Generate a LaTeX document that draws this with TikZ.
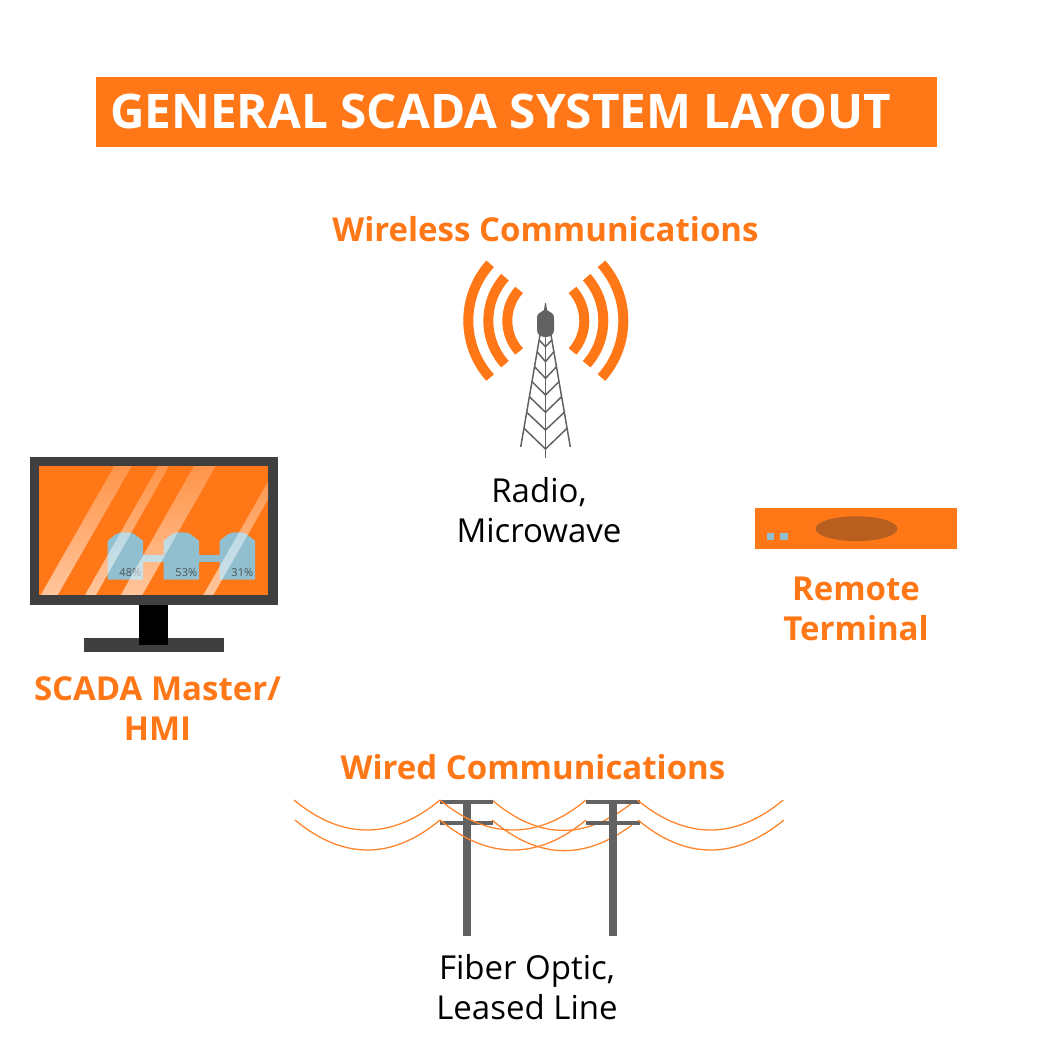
\documentclass[tikz,border=0pt]{standalone}
\usepackage{fontspec}
\setmainfont{Open Sans}
\usetikzlibrary{fadings}
\definecolor{scadaorange}{HTML}{FF7716}
\definecolor{framegray}{HTML}{3F3F3F}
\definecolor{polegray}{HTML}{626262}
\definecolor{tankblue}{HTML}{91BFCF}
\definecolor{domebrown}{HTML}{B85F20}
\tikzfading[name=glassfade, top color=transparent!78, bottom color=transparent!42]
\tikzset{
    heading/.style={text=scadaorange, font=\fontsize{33}{40}\selectfont\bfseries, align=center},
    plainlabel/.style={text=black, font=\fontsize{33}{39.5}\selectfont, align=center},
    tankpct/.style={text=framegray!85!tankblue, font=\fontsize{11}{13}\selectfont},
    wave/.style={draw=scadaorange, line width=10pt},
    wire/.style={draw=scadaorange!90!white, line width=1.3pt},
    glass/.style={fill=white, path fading=glassfade}
}
\begin{document}
\begin{tikzpicture}[x=1pt,y=-1pt]
    \useasboundingbox (0,0) rectangle (1042,1042);

    \fill[scadaorange] (96,77) rectangle (937,147);
    \node[anchor=base west, inner sep=0pt, text=white, font=\fontsize{47.7}{54}\selectfont\bfseries] (title) at (110,128) {GENERAL SCADA SYSTEM LAYOUT};

    \node[heading] (wireless) at (545.5,229) {Wireless Communications};

    \draw[wave] (538.3,320.7) ++(-42:85) arc (-42:42:85);
    \draw[wave] (538.3,320.7) ++(-42:65) arc (-42:42:65);
    \draw[wave] (538.3,320.7) ++(-42:46) arc (-42:42:46);
    \draw[wave] (553.3,320.7) ++(138:85) arc (138:222:85);
    \draw[wave] (553.3,320.7) ++(138:65) arc (138:222:65);
    \draw[wave] (553.3,320.7) ++(138:46) arc (138:222:46);

    \draw[polegray, line width=1.5pt] (540,335) -- (520.7,447);
    \draw[polegray, line width=1.5pt] (551,335) -- (570.3,447);
    \draw[polegray, line width=1.5pt] (545.5,335) -- (545.5,458);
    \foreach \ya/\yb/\w in {340/346.7/6.4, 351.7/361.7/8.4, 366.7/378.3/11, 381.7/395/13.5, 396.7/412.3/16.1, 412.3/430/18.8, 428.3/449/21.5}
        \draw[polegray, line width=1.5pt] (545.5-\w,\ya) -- (545.5,\yb) -- (545.5+\w,\ya);
    \fill[polegray] (545,303) -- (546,303) -- (547,310) -- (550,312) .. controls (554,314) and (554,316) .. (554,320) -- (554,330) .. controls (554,335) and (550,337) .. (545.5,337) .. controls (541,337) and (537,335) .. (537,330) -- (537,320) .. controls (537,316) and (537,314) .. (541,312) -- (544,310) -- cycle;

    \node[plainlabel] (radio) at (539,510) {Radio,\\Microwave};

    \fill[framegray] (30,457) rectangle (278,605);
    \fill[scadaorange] (39,466) rectangle (268,595);
    \fill[framegray] (83.5,638) rectangle (223.5,652);
    \fill[black] (139,605) rectangle (168,645);

    \foreach \x in {107.7,163.7,219.7}
        \fill[tankblue] (\x,579.7) -- (\x,540.7) -- (\x+8,534.5) .. controls (\x+12,531.5) and (\x+23.3,531.5) .. (\x+27.3,534.5) -- (\x+35.3,540.7) -- (\x+35.3,579.7) -- cycle;
    \fill[tankblue] (143,555) rectangle (163.7,561.7);
    \fill[tankblue] (199,555) rectangle (219.7,561.7);
    \node[tankpct] (pcta) at (130.3,572.3) {48\%};
    \node[tankpct] (pctb) at (186.3,572.3) {53\%};
    \node[tankpct] (pctc) at (242.3,572.3) {31\%};

    \begin{scope}
        \clip (39,466) rectangle (268,595);
        \fill[glass] (114.3,466) -- (131.7,466) -- (57.7,595) -- (40.7,595) -- cycle;
        \fill[glass] (158.3,466) -- (169,466) -- (96,595) -- (85,595) -- cycle;
        \fill[glass] (194,466) -- (215.7,466) -- (142.3,595) -- (120.7,595) -- cycle;
        \fill[glass] (277,466) -- (287,466) -- (213.3,595) -- (203.3,595) -- cycle;
    \end{scope}

    \node[heading] (master) at (157.5,709) {SCADA Master/\\HMI};

    \fill[scadaorange] (755,508) rectangle (956.7,549);
    \fill[domebrown] (856.5,528.7) ellipse (41 and 12.4);
    \fill[tankblue] (766.7,533) rectangle (774,540);
    \fill[tankblue] (780,533) rectangle (787.7,540);
    \node[heading] (terminal) at (856,608.5) {Remote\\Terminal};

    \node[heading] (wired) at (533,767) {Wired Communications};

    \draw[wire] (294,800) .. controls (342,840) and (392,840) .. (440,800);
    \draw[wire] (295,820) .. controls (343,860) and (392,860) .. (440,820);
    \draw[wire] (492,800) .. controls (539,840) and (585,840) .. (632,803);
    \draw[wire] (492,820) .. controls (539,860) and (585,860) .. (632,825);

    \fill[polegray] (463,801) rectangle (471,936);
    \fill[polegray] (440,800) rectangle (493.3,804);
    \fill[polegray] (440,820.7) rectangle (493.3,824.7);
    \fill[polegray] (609,801) rectangle (617,936);
    \fill[polegray] (586,800) rectangle (640,804);
    \fill[polegray] (586,820.7) rectangle (640,824.7);

    \draw[wire] (440,800) .. controls (488,840) and (538,840) .. (586,800);
    \draw[wire] (440,820) .. controls (488,860) and (538,860) .. (586,820);
    \draw[wire] (637.3,800) .. controls (686,840) and (735,840) .. (783.3,800);
    \draw[wire] (638,820) .. controls (686,860) and (735,860) .. (784,820);

    \node[plainlabel] (fiber) at (527,987) {Fiber Optic,\\Leased Line};
\end{tikzpicture}
\end{document}
